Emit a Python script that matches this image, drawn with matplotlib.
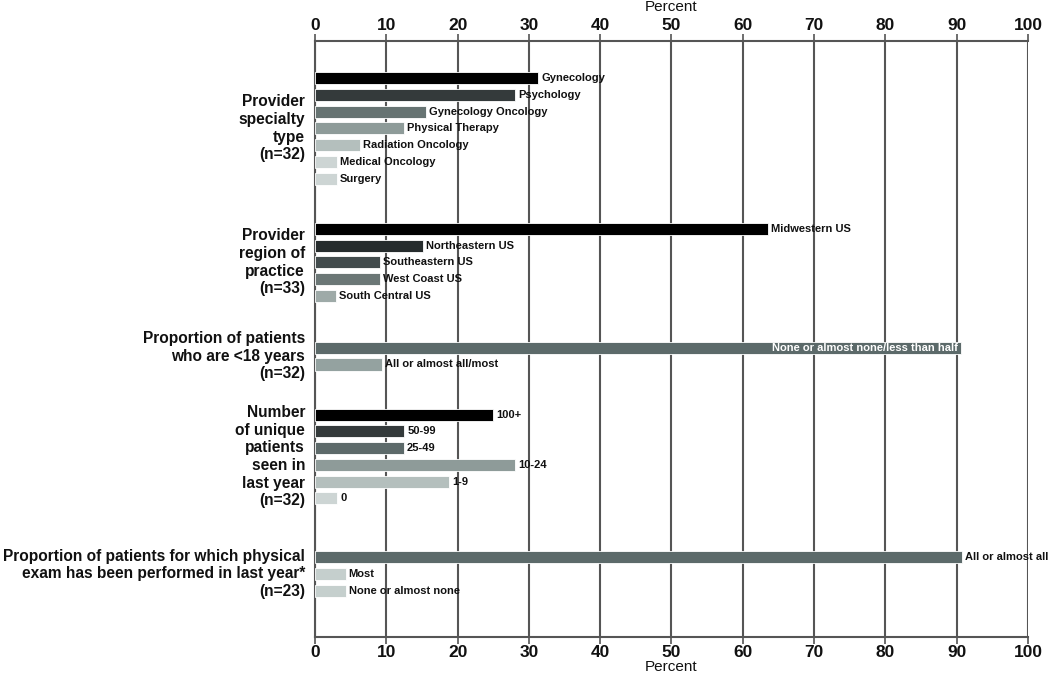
import matplotlib
matplotlib.use("Agg")
import matplotlib.pyplot as plt

plt.rcParams['font.family'] = ['Liberation Sans', 'DejaVu Sans']

# ---- data ----
group_titles = [
    "Provider\nspecialty\ntype\n(n=32)",
    "Provider\nregion of\npractice\n(n=33)",
    "Proportion of patients\nwho are <18 years\n(n=32)",
    "Number\nof unique\npatients\nseen in\nlast year\n(n=32)",
    "Proportion of patients for which physical\nexam has been performed in last year*\n(n=23)",
]
specialty_labels = ["Gynecology", "Psychology", "Gynecology Oncology", "Physical Therapy",
                    "Radiation Oncology", "Medical Oncology", "Surgery"]
specialty_values = [31.3, 28.1, 15.6, 12.5, 6.3, 3.1, 3.1]

region_labels = ["Midwestern US", "Northeastern US", "Southeastern US", "West Coast US",
                 "South Central US"]
region_values = [63.6, 15.2, 9.1, 9.1, 3.0]

minor_labels = ["None or almost none/less than half", "All or almost all/most"]
minor_values = [90.6, 9.4]

patients_labels = ["100+", "50-99", "25-49", "10-24", "1-9", "0"]
patients_values = [25.0, 12.5, 12.5, 28.1, 18.8, 3.1]

exam_labels = ["All or almost all", "Most", "None or almost none"]
exam_values = [90.7, 4.3, 4.3]

x_ticks = [0, 10, 20, 30, 40, 50, 60, 70, 80, 90, 100]

# ---- styling ----
group_colors = [
    ["#000000", "#343a3b", "#667372", "#8e9b99", "#b4bfbd", "#cdd5d4", "#cdd5d4"],
    ["#000000", "#262c2d", "#434c4d", "#6b7776", "#9eaaa8"],
    ["#5c6a6a", "#94a2a0"],
    ["#000000", "#343a3b", "#5d6a6a", "#8e9b99", "#b4bfbd", "#cdd5d4"],
    ["#5c6a6a", "#c5cfcd", "#c5cfcd"],
]
groups = [
    (specialty_labels, specialty_values),
    (region_labels, region_values),
    (minor_labels, minor_values),
    (patients_labels, patients_values),
    (exam_labels, exam_values),
]
group_gaps = [0, 3.0, 3.1, 3.0, 3.5]
inside_label = {(2, 0)}

fig = plt.figure(figsize=(10.5, 6.74), dpi=100)
ax = fig.add_axes([0.3, 0.055, 0.679, 0.884])

grid_col = "#555555"
last = 0
for gi, ((labels, values), cols) in enumerate(zip(groups, group_colors)):
    start = last + group_gaps[gi] if gi > 0 else 0
    ys = []
    for bi, (lab, val) in enumerate(zip(labels, values)):
        y = start + bi
        ys.append(y)
        ax.barh(y, val, height=0.72, color=cols[bi], edgecolor="white", linewidth=0.6, zorder=3)
        if (gi, bi) in inside_label:
            ax.annotate(lab, xy=(val, y), xytext=(-3, 0), textcoords="offset pixels",
                        ha="right", va="center", fontsize=8, fontweight="bold",
                        color="white", zorder=4)
        else:
            ax.annotate(lab, xy=(val, y), xytext=(3, 0), textcoords="offset pixels",
                        ha="left", va="center", fontsize=8, fontweight="bold",
                        color="#111111", zorder=4)
    last = ys[-1]
    center = (ys[0] + ys[-1]) / 2
    ax.annotate(group_titles[gi], xy=(0, center), xycoords=("axes fraction", "data"),
                xytext=(-10, 0), textcoords="offset pixels", ha="right", va="center",
                multialignment="right", fontsize=11.2, fontweight="bold",
                linespacing=1.22, color="#111111")

ax.set_xlim(0, 100)
ax.set_ylim(33.37, -2.21)
ax.set_yticks([])
ax.set_xticks(x_ticks)
ax.xaxis.grid(True, color=grid_col, linewidth=1.5, zorder=1)
for s in ax.spines.values():
    s.set_color(grid_col)
    s.set_linewidth(1.5)
ax.spines["right"].set_visible(False)
ax.tick_params(axis="x", direction="out", length=5, width=1.2, color=grid_col,
               labelsize=12.5, pad=1, top=True, labeltop=True)
for lab in ax.get_xticklabels():
    lab.set_fontweight("bold")
ax.set_xlabel("Percent", fontsize=11, labelpad=0)
ax.xaxis.label.set_color("#111111")
for t in ax.xaxis.get_majorticklabels():
    t.set_color("#111111")
fig.text(ax.get_position().x0 + ax.get_position().width * 0.5, 1 - 7 / 674, "Percent",
         ha="center", va="center", fontsize=11, color="#111111")

fig.savefig("out.png", dpi=100)
